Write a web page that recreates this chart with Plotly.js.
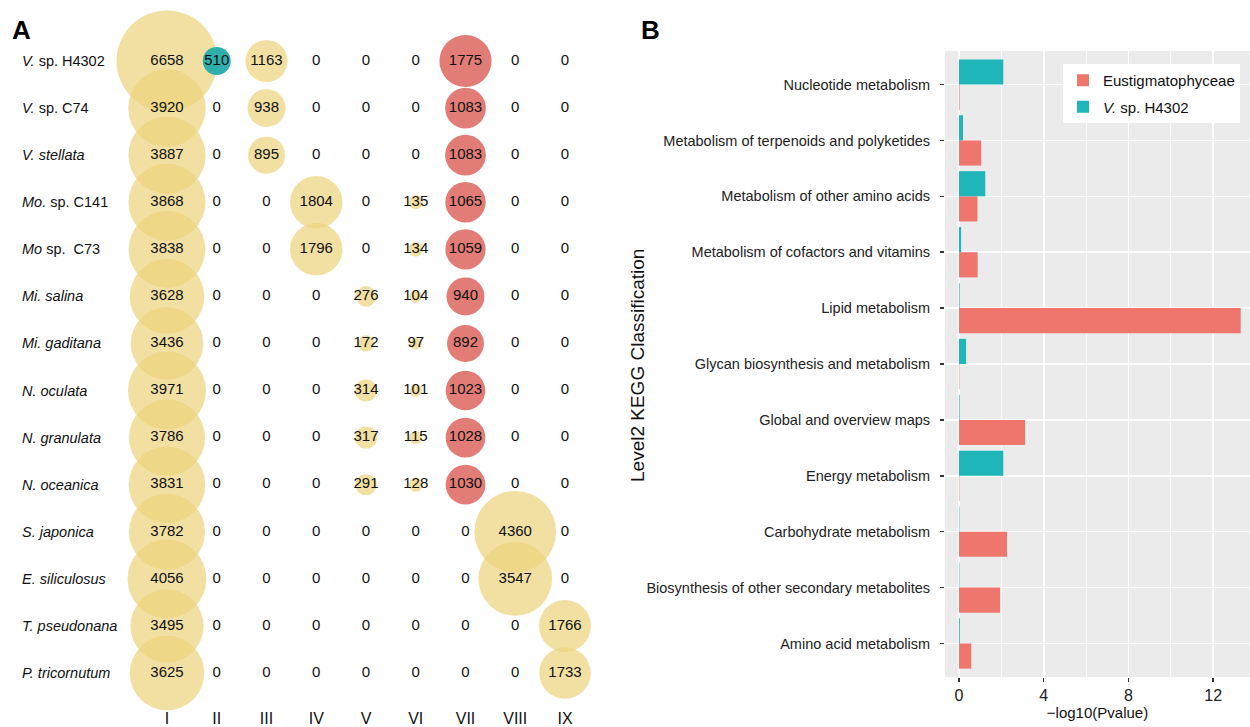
<!DOCTYPE html>
<html>
<head>
<meta charset="utf-8">
<script src="https://cdn.plot.ly/plotly-3.0.1.min.js"></script>
<style>html,body{margin:0;padding:0;background:#fff;}#chart{width:1250px;height:727px;}</style>
</head>
<body>
<div id="chart"></div>
<script>
// ---------- Panel A data ----------
const species = [
  "<i>V.</i> sp. H4302", "<i>V.</i> sp. C74", "<i>V. stellata</i>", "<i>Mo.</i> sp. C141",
  "<i>Mo</i> sp.\u00a0 C73", "<i>Mi. salina</i>", "<i>Mi. gaditana</i>", "<i>N. oculata</i>",
  "<i>N. granulata</i>", "<i>N. oceanica</i>", "<i>S. japonica</i>", "<i>E. siliculosus</i>",
  "<i>T. pseudonana</i>", "<i>P. tricornutum</i>"
];
const clusters = ["I", "II", "III", "IV", "V", "VI", "VII", "VIII", "IX"];
const colI    = [6658, 3920, 3887, 3868, 3838, 3628, 3436, 3971, 3786, 3831, 3782, 4056, 3495, 3625];
const colII   = [510, 0, 0, 0, 0, 0, 0, 0, 0, 0, 0, 0, 0, 0];
const colIII  = [1163, 938, 895, 0, 0, 0, 0, 0, 0, 0, 0, 0, 0, 0];
const colIV   = [0, 0, 0, 1804, 1796, 0, 0, 0, 0, 0, 0, 0, 0, 0];
const colV    = [0, 0, 0, 0, 0, 276, 172, 314, 317, 291, 0, 0, 0, 0];
const colVI   = [0, 0, 0, 135, 134, 104, 97, 101, 115, 128, 0, 0, 0, 0];
const colVII  = [1775, 1083, 1083, 1065, 1059, 940, 892, 1023, 1028, 1030, 0, 0, 0, 0];
const colVIII = [0, 0, 0, 0, 0, 0, 0, 0, 0, 0, 4360, 3547, 0, 0];
const colIX   = [0, 0, 0, 0, 0, 0, 0, 0, 0, 0, 0, 0, 1766, 1733];
const columns = [colI, colII, colIII, colIV, colV, colVI, colVII, colVIII, colIX];

// ---------- Panel B data ----------
const keggCats = [
  "Nucleotide metabolism", "Metabolism of terpenoids and polyketides",
  "Metabolism of other amino acids", "Metabolism of cofactors and vitamins",
  "Lipid metabolism", "Glycan biosynthesis and metabolism", "Global and overview maps",
  "Energy metabolism", "Carbohydrate metabolism",
  "Biosynthesis of other secondary metabolites", "Amino acid metabolism"
];
const eustig = [0.03, 1.05, 0.87, 0.88, 13.3, 0.02, 3.12, 0.02, 2.27, 1.94, 0.58];
const vsp    = [2.09, 0.19, 1.24, 0.10, 0.03, 0.33, 0.03, 2.09, 0.02, 0.02, 0.04];

// ---------- styles ----------
const YEL = "rgba(236,210,122,0.69)", TEAL = "rgba(36,172,170,0.95)", RED = "rgba(223,110,104,0.9)";
const colColors = [YEL, TEAL, YEL, YEL, YEL, YEL, RED, YEL, YEL];
const maxVal = 6658, maxRadiusPx = 50.5;
const sizeref = maxVal / 2 / (maxRadiusPx * maxRadiusPx);
const FONT = "Liberation Sans, Arial, sans-serif";
const NARROW = "Liberation Sans Narrow, Arial Narrow, Liberation Sans, sans-serif";

const rows = species.map((s, i) => i + 1);
const traces = [];
columns.forEach((col, ci) => {
  traces.push({
    type: "scatter", mode: "markers", xaxis: "x", yaxis: "y",
    x: col.map(() => ci + 1), y: rows,
    marker: {size: col, sizemode: "area", sizeref: sizeref, color: colColors[ci], opacity: 1, line: {width: 0}},
    cliponaxis: false, showlegend: false, hoverinfo: "skip"
  });
});
// value labels
const tx = [], ty = [], tt = [];
columns.forEach((col, ci) => col.forEach((v, ri) => { tx.push(ci + 1); ty.push(ri + 1); tt.push(String(v)); }));
traces.push({
  type: "scatter", mode: "text", xaxis: "x", yaxis: "y", x: tx, y: ty, text: tt,
  textposition: "middle center", textfont: {family: NARROW, size: 15, color: "#111"},
  cliponaxis: false, showlegend: false, hoverinfo: "skip"
});

// Panel B bars
traces.push({
  type: "bar", orientation: "h", xaxis: "x2", yaxis: "y2", name: "Eustigmatophyceae",
  x: eustig, y: keggCats, marker: {color: "#EE766D", line: {width: 0}}, legendgroup: "a"
});
traces.push({
  type: "bar", orientation: "h", xaxis: "x2", yaxis: "y2", name: "<i>V.</i> sp. H4302",
  x: vsp, y: keggCats, marker: {color: "#1EB6B8", line: {width: 0}}, legendgroup: "b"
});

// Panel A geometry (px)
const W = 1250, H = 727;
const colX1 = 167, colStep = 49.75;
const rowY1 = 61, rowStep = 47.08, axisBottomPx = 707;

const annotations = species.map((s, i) => ({
  text: s, xref: "paper", yref: "y", x: 20 / W, y: i + 1, xanchor: "left", yanchor: "middle",
  showarrow: false, font: {family: FONT, size: 14.5, color: "#111"}
}));
annotations.push({text: "<b>A</b>", xref: "paper", yref: "paper", x: 10 / W, y: 1 - 30 / H,
  xanchor: "left", yanchor: "middle", showarrow: false, font: {family: FONT, size: 26, color: "#000"}});
annotations.push({text: "<b>B</b>", xref: "paper", yref: "paper", x: 639 / W, y: 1 - 30 / H,
  xanchor: "left", yanchor: "middle", showarrow: false, font: {family: FONT, size: 26, color: "#000"}});
annotations.push({text: "Level2 KEGG Classification", xref: "paper", yref: "paper",
  x: 637 / W, y: 1 - 366 / H, xanchor: "center", yanchor: "middle", textangle: -90,
  showarrow: false, font: {family: FONT, size: 19, color: "#111"}});

const bLeft = 945, bZero = 959, bUnit = 21.18;

const layout = {
  width: W, height: H, margin: {l: 0, r: 0, t: 0, b: 0},
  paper_bgcolor: "#fff", plot_bgcolor: "rgba(0,0,0,0)",
  font: {family: FONT, color: "#111"},
  showlegend: true,
  barmode: "group", bargap: 0.1, bargroupgap: 0,
  xaxis: {
    domain: [0, 625 / W],
    range: [1 - colX1 / colStep, 1 + (625 - colX1) / colStep],
    tickmode: "array", tickvals: clusters.map((c, i) => i + 1), ticktext: clusters,
    showgrid: false, zeroline: false, showline: false, ticks: "",
    tickfont: {family: FONT, size: 16, color: "#111"}, anchor: "y", fixedrange: true
  },
  yaxis: {
    domain: [(H - axisBottomPx) / H, 1],
    range: [1 + (axisBottomPx - rowY1) / rowStep, 1 - rowY1 / rowStep],
    showgrid: false, zeroline: false, showline: false, showticklabels: false, ticks: "",
    anchor: "x", fixedrange: true
  },
  xaxis2: {
    domain: [bLeft / W, 1], anchor: "y2",
    range: [(bLeft - bZero) / bUnit, (W - bZero) / bUnit],
    tickmode: "array", tickvals: [0, 4, 8, 12],
    showgrid: true, gridcolor: "#fff", gridwidth: 1.6,
    minor: {tickmode: "array", tickvals: [2, 6, 10], showgrid: true, gridcolor: "#fff", gridwidth: 0.7, ticks: ""},
    zeroline: false, showline: false, ticks: "outside", ticklen: 4, tickwidth: 1.5, tickcolor: "#333",
    tickfont: {family: FONT, size: 16, color: "#222"},
    title: {text: "\u2212log10(Pvalue)", font: {family: FONT, size: 15, color: "#111"}, standoff: 4}
  },
  yaxis2: {
    domain: [(H - 677) / H, (H - 51) / H], anchor: "x2",
    type: "category", categoryorder: "array", categoryarray: keggCats.slice().reverse(),
    range: [-0.6, keggCats.length - 0.4],
    showgrid: true, gridcolor: "#fff", gridwidth: 1.6,
    zeroline: false, showline: false, ticks: "outside", ticklen: 4, tickwidth: 1.5, tickcolor: "#333",
    ticklabelstandoff: 7,
    tickfont: {family: FONT, size: 14.5, color: "#222"}
  },
  shapes: [{type: "rect", xref: "x2 domain", yref: "y2 domain", x0: 0, x1: 1, y0: 0, y1: 1,
    fillcolor: "#EBEBEB", line: {width: 0}, layer: "below"}],
  legend: {
    x: 1063 / W, y: 1 - 64 / H, xanchor: "left", yanchor: "top",
    bgcolor: "#fff", borderwidth: 0, traceorder: "grouped", tracegroupgap: 4,
    font: {family: FONT, size: 15, color: "#111"}, itemwidth: 30
  },
  annotations: annotations
};

Plotly.newPlot("chart", traces, layout, {staticPlot: true, displayModeBar: false});
</script>
</body>
</html>
